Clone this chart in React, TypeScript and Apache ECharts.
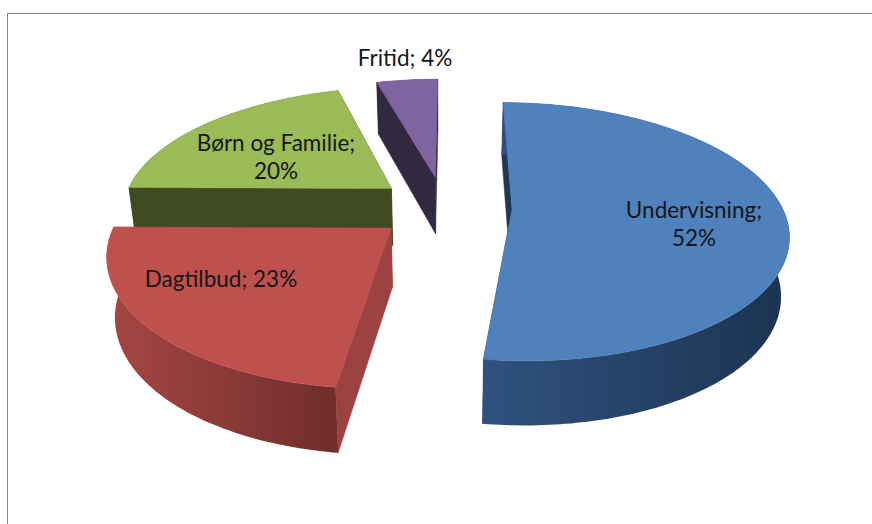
import React, { useEffect, useRef } from "react";
import * as echarts from "echarts";

const categories = ["Undervisning", "Dagtilbud", "Børn og Familie", "Fritid"];
const values = [51.9, 23.0, 20.5, 4.4];
const labelLines = [["Undervisning;", "52%"], ["Dagtilbud; 23%"], ["Børn og Familie;", "20%"], ["Fritid; 4%"]];

const topColors = ["#4F81BD", "#BE504D", "#9BBB59", "#8064A2"];
const cutColors = ["#1F3854", "#9C4341", "#404B21", "#322840"];
const wallStops = [
  ["#2F527F", "#1C3350", 481, 790],
  ["#A54744", "#6F2D2B", 110, 338],
  ["#404B21", "#404B21", 130, 392],
  ["#322840", "#322840", 378, 437],
];
const labelAnchors = [[694, 223], [221, 278], [276, 156], [405, 57]];

const CX = 444, CY = 207, R = 270, TILT = 124.5, PERSP = 0.174, EXPLODE = 68, DEPTH = 58, START = 0.3, NARROW = 0.025;

function project(X: number, Y: number, z: number): number[] {
  const w = 1 + (PERSP * Y) / R;
  const d = z * DEPTH / (1 + (0.1 * Y) / R);
  return [CX + X / w / (1 + NARROW * z), CY - (TILT * Y) / R / w + d];
}

function renderSlice(_params: any, api: any) {
  const idx = api.value(0);
  const total = values.reduce((a, b) => a + b, 0);
  const before = values.slice(0, idx).reduce((a, b) => a + b, 0);
  const a0 = START + (before / total) * 360;
  const a1 = a0 + (api.value(1) / total) * 360;
  const rad = (d: number) => (d * Math.PI) / 180;
  const mid = rad((a0 + a1) / 2);
  const ox = EXPLODE * Math.sin(mid), oy = EXPLODE * Math.cos(mid);
  const rim = (deg: number, z: number) => project(ox + R * Math.sin(rad(deg)), oy + R * Math.cos(rad(deg)), z);
  const topArc: number[][] = [], lowArc: number[][] = [];
  const n = Math.max(4, Math.ceil(a1 - a0));
  for (let i = 0; i <= n; i++) {
    const d = a0 + ((a1 - a0) * i) / n;
    topArc.push(rim(d, 0));
    lowArc.push(rim(d, 1));
  }
  const apexT = project(ox, oy, 0), apexB = project(ox, oy, 1);
  const [c0, c1, g0, g1] = wallStops[idx] as [string, string, number, number];
  const wallFill = new echarts.graphic.LinearGradient(g0, 0, g1, 0, [{ offset: 0, color: c0 }, { offset: 1, color: c1 }], true);
  const poly = (points: number[][], fill: any) => ({
    type: "polygon", shape: { points }, style: { fill, stroke: fill === wallFill ? undefined : fill, lineWidth: 0.5 },
  });
  return {
    type: "group",
    children: [
      poly([apexT, topArc[0], lowArc[0], apexB], cutColors[idx]),
      poly([apexT, topArc[n], lowArc[n], apexB], cutColors[idx]),
      poly([...topArc, ...lowArc.slice().reverse()], wallFill),
      poly([apexT, ...topArc], topColors[idx]),
      {
        type: "text",
        x: labelAnchors[idx][0],
        y: labelAnchors[idx][1],
        style: {
          text: labelLines[idx].join("\n"), fill: "#161616", font: '22.5px Lato, sans-serif',
          align: "center", verticalAlign: "middle", lineHeight: 28,
        },
      },
    ],
  };
}

export default function App() {
  const ref = useRef<HTMLDivElement>(null);
  useEffect(() => {
    const chart = echarts.init(ref.current!, null, { renderer: "svg" });
    chart.setOption({
      animation: false,
      backgroundColor: "#fff",
      graphic: [
        { type: "line", shape: { x1: 7, y1: 13.5, x2: 872, y2: 13.5 }, style: { stroke: "#868686", lineWidth: 1 } },
        { type: "line", shape: { x1: 7.5, y1: 13, x2: 7.5, y2: 524 }, style: { stroke: "#868686", lineWidth: 1 } },
      ],
      series: [{
        type: "custom",
        coordinateSystem: "none",
        renderItem: renderSlice,
        data: categories.map((name, i) => ({ name, value: [i, values[i]] })).reverse(),
      }],
    });
    return () => chart.dispose();
  }, []);
  return <div ref={ref} style={{ position: "fixed", left: 0, top: 0, width: 872, height: 524 }} />;
}
